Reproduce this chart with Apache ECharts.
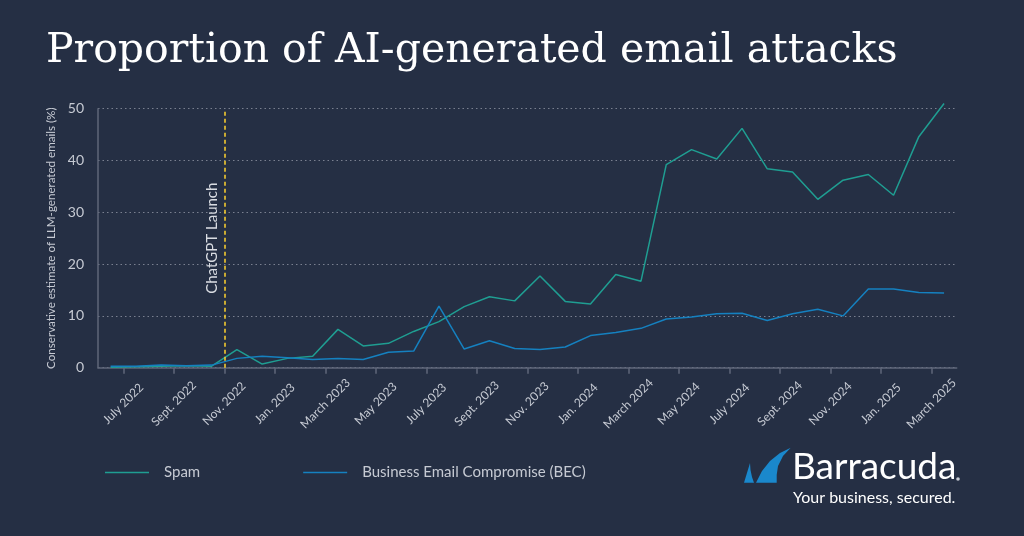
<!DOCTYPE html>
<html>
	<head>
		<meta charset="UTF-8">
		<title>Proportion of AI-generated email attacks</title>
		<script src="https://cdn.jsdelivr.net/npm/echarts@6/dist/echarts.min.js"></script>
		<style>
			html, body {
				margin: 0;
				padding: 0;
				background: #252f44;
			}
			#chart {
				width: 1024px;
				height: 536px;
			}
		</style>
	</head>
	<body>
		<div id="chart"></div>
		<script>
			// one entry per month, the last one only closes the axis
			var months = ['June 2022', 'July 2022', 'Aug. 2022', 'Sept. 2022', 'Oct. 2022', 'Nov. 2022', 'Dec. 2022',
				'Jan. 2023', 'Feb. 2023', 'March 2023', 'April 2023', 'May 2023', 'June 2023', 'July 2023', 'Aug. 2023',
				'Sept. 2023', 'Oct. 2023', 'Nov. 2023', 'Dec. 2023', 'Jan. 2024', 'Feb. 2024', 'March 2024', 'April 2024',
				'May 2024', 'June 2024', 'July 2024', 'Aug. 2024', 'Sept. 2024', 'Oct. 2024', 'Nov. 2024', 'Dec. 2024',
				'Jan. 2025', 'Feb. 2025', 'March 2025', 'April 2025'];
			var spam = [0.1, 0.2, 0.3, 0.4, 0.3, 3.5, 0.7, 1.8, 2.2, 7.4, 4.2, 4.7, 7.0, 8.9, 11.8, 13.7, 12.9,
				17.7, 12.8, 12.3, 18.0, 16.7, 39.2, 42.1, 40.3, 46.2, 38.4, 37.8, 32.5, 36.2, 37.3, 33.3, 44.6, 51.0];
			var bec = [0.3, 0.3, 0.5, 0.4, 0.5, 1.8, 2.2, 1.9, 1.6, 1.8, 1.6, 3.0, 3.2, 11.9, 3.6, 5.2, 3.7,
				3.5, 4.0, 6.2, 6.8, 7.6, 9.4, 9.8, 10.4, 10.5, 9.1, 10.4, 11.3, 10.0, 15.2, 15.2, 14.5, 14.4];
			var launchMonth = 'Nov. 2022';

			var textColor = '#c6cad3';
			var axisColor = '#5f6779';
			var logoBlue = '#1a88cc';
			var labelFont = 'Lato';

			var chart = echarts.init(document.getElementById('chart'));
			chart.setOption({
				backgroundColor: '#252f44',
				animation: false,
				title: {
					text: 'Proportion of AI-generated email attacks',
					left: 41,
					top: 26,
					textStyle: {
						color: '#ffffff',
						fontFamily: 'DejaVu Serif',
						fontWeight: 'normal',
						fontSize: 41
					}
				},
				legend: {
					data: ['Spam', 'Business Email Compromise (BEC)'],
					left: 100,
					top: 460,
					icon: 'rect',
					itemWidth: 44,
					itemHeight: 1.5,
					itemGap: 103,
					textStyle: {
						color: textColor,
						fontFamily: labelFont,
						fontSize: 15,
						padding: [0, 0, 0, 10]
					}
				},
				grid: {
					left: 98,
					right: 67.3,
					top: 108.7,
					bottom: 168.3
				},
				xAxis: [{
					// points sit in the middle of each month
					type: 'category',
					data: months.slice(0, 34),
					show: false
				}, {
					// ticks and labels sit on the month boundaries
					type: 'category',
					data: months,
					boundaryGap: false,
					position: 'bottom',
					axisLine: {
						lineStyle: { color: axisColor, width: 1.5 }
					},
					axisTick: {
						length: 6,
						lineStyle: { color: axisColor, width: 1.5 },
						interval: function(i) {
							return i % 2 == 1 && i < 34;
						}
					},
					axisLabel: {
						color: textColor,
						fontFamily: labelFont,
						fontSize: 12,
						rotate: 45,
						align: 'center',
						verticalAlign: 'middle',
						margin: 36,
						interval: function(i) {
							return i % 2 == 1 && i < 34;
						}
					},
					splitLine: { show: false }
				}],
				yAxis: {
					type: 'value',
					min: 0,
					max: 50,
					interval: 10,
					name: 'Conservative estimate of LLM-generated emails (%)',
					nameLocation: 'middle',
					nameGap: 36,
					nameTextStyle: {
						color: textColor,
						fontFamily: labelFont,
						fontSize: 11.6
					},
					axisLine: {
						show: true,
						lineStyle: { color: axisColor, width: 1.5 }
					},
					axisTick: { show: false },
					axisLabel: {
						color: textColor,
						fontFamily: labelFont,
						fontSize: 14,
						margin: 14
					},
					splitLine: {
						lineStyle: { color: '#7a8090', type: [1.5, 3], width: 1 }
					}
				},
				series: [{
					name: 'Spam',
					type: 'line',
					xAxisIndex: 0,
					data: spam,
					clip: false,
					symbol: 'none',
					lineStyle: { color: '#1f9e92', width: 1.5 },
					itemStyle: { color: '#1f9e92' }
				}, {
					name: 'Business Email Compromise (BEC)',
					type: 'line',
					xAxisIndex: 0,
					data: bec,
					clip: false,
					symbol: 'none',
					lineStyle: { color: '#1581c0', width: 1.5 },
					itemStyle: { color: '#1581c0' }
				}, {
					name: 'ChatGPT Launch',
					type: 'line',
					xAxisIndex: 1,
					data: [],
					markLine: {
						silent: true,
						symbol: 'none',
						lineStyle: { color: '#ffd42e', type: [4, 3], width: 1.5 },
						label: {
							position: 'insideMiddleTop',
							formatter: '{b}',
							color: '#d9dce2',
							fontFamily: labelFont,
							fontSize: 15,
							distance: 5
						},
						data: [{ name: 'ChatGPT Launch', xAxis: launchMonth }]
					}
				}],
				graphic: [{
					type: 'polygon',
					shape: {
						points: [[744, 482.7], [750, 463], [750.5, 470], [752, 477], [754, 482.7]]
					},
					style: { fill: logoBlue }
				}, {
					type: 'polygon',
					shape: {
						points: [[756, 482.7], [762, 471], [770, 461], [780, 453], [790.7, 447.7], [783, 456], [778, 466], [776.7, 475], [776.7, 482.7]]
					},
					style: { fill: logoBlue }
				}, {
					type: 'text',
					left: 792,
					top: 449,
					style: {
						text: 'Barracuda',
						fill: '#ffffff',
						font: '37px "Lato"'
					}
				}, {
					type: 'circle',
					shape: { cx: 958, cy: 479, r: 1.8 },
					style: { fill: '#c6cad3' }
				}, {
					type: 'text',
					left: 793,
					top: 490,
					style: {
						text: 'Your business, secured.',
						fill: '#ffffff',
						font: '16px "Lato"'
					}
				}]
			});
		</script>
	</body>
</html>
